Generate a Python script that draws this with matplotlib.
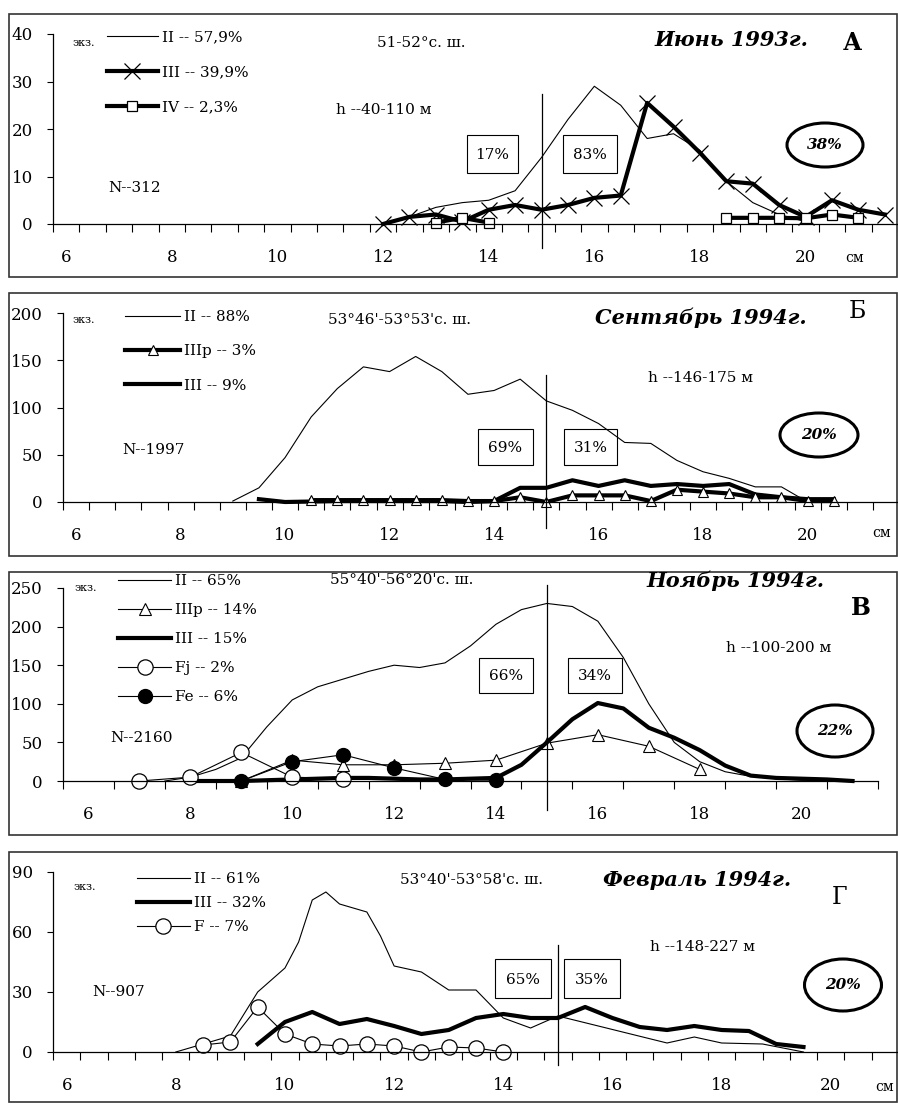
"""Length frequency by maturity stage, four surveys (panels А, Б, В, Г)."""

import matplotlib

matplotlib.use("Agg")

import matplotlib.pyplot as plt
import numpy as np
from matplotlib.patches import Ellipse, Rectangle

plt.rcParams["font.family"] = ["DejaVu Serif", "DejaVu Sans"]

W, H = 898, 1104
X_LABELS = [6, 8, 10, 12, 14, 16, 18, 20]
DIVIDE_AT = 15

# ---- panel А: June 1993 ----
A_II_X = [12, 12.5, 13, 13.5, 14, 14.5, 15, 15.5, 16, 16.5, 17, 17.5, 18, 18.5, 19, 19.5, 20]
A_II_Y = [0, 1.5, 3.5, 4.5, 5, 7, 14, 22, 29, 25, 18, 19, 15.5, 9, 4.5, 2, 0.5]
A_III_X = [12, 12.5, 13, 13.5, 14, 14.5, 15, 15.5, 16, 16.5, 17, 17.5, 18, 18.5, 19, 19.5,
           20, 20.5, 21, 21.5]
A_III_Y = [0, 1.5, 2, 0.5, 3, 4, 3, 4, 5.5, 6, 25.5, 20.5, 15, 9, 8.5, 4, 1.5, 5, 3, 2]
A_IV_X = [13, 13.5, 14, 14.5, 18.5, 19, 19.5, 20, 20.5, 21]
A_IV_Y = [0.3, 1.3, 0.3, np.nan, 1.3, 1.3, 1.3, 1.2, 2, 1.3]

# ---- panel Б: September 1994 ----
B_II_X = [9, 9.5, 10, 10.5, 11, 11.5, 12, 12.5, 13, 13.5, 14, 14.5, 15, 15.5, 16, 16.5, 17,
          17.5, 18, 18.5, 19, 19.5, 20]
B_II_Y = [1, 15, 47, 90, 120, 143, 138, 154, 138, 114, 118, 130, 107, 97, 83, 63, 62, 44, 32,
          25, 16, 16, 0]
B_IIIP_X = [10.5, 11, 11.5, 12, 12.5, 13, 13.5, 14, 14.5, 15, 15.5, 16, 16.5, 17, 17.5, 18,
            18.5, 19, 19.5, 20, 20.5]
B_IIIP_Y = [2, 2, 2, 2, 2, 2, 1, 1, 5, 0, 7, 7, 7, 1, 13, 11, 9, 5, 5, 1, 1]
B_III_X = [9.5, 10, 10.5, 11, 11.5, 12, 12.5, 13, 13.5, 14, 14.5, 15, 15.5, 16, 16.5, 17,
           17.5, 18, 18.5, 19, 19.5, 20, 20.5]
B_III_Y = [3, 0, 0.5, 1, 1, 1, 1, 1, 0, 1, 15, 15, 23, 17, 23, 17, 19, 17, 19, 8, 5, 3, 3]

# ---- panel В: November 1994 ----
V_II_X = [7.5, 8, 8.5, 9, 9.5, 10, 10.5, 11, 11.5, 12, 12.5, 13, 13.5, 14, 14.5, 15, 15.5,
          16, 16.5, 17, 17.5, 18, 18.5, 19, 19.5, 20, 20.5, 21]
V_II_Y = [0, 5, 15, 30, 70, 105, 122, 132, 142, 150, 147, 153, 175, 203, 222, 230, 226, 207,
          160, 100, 50, 25, 12, 6, 3, 1, 1, 0]
V_IIIP_X = [9, 10, 11, 12, 13, 14, 15, 16, 17, 18]
V_IIIP_Y = [0, 27, 21, 21, 23, 27, 49, 60, 45, 15]
V_III_X = [8, 8.5, 9, 9.5, 10, 10.5, 11, 11.5, 12, 12.5, 13, 13.5, 14, 14.5, 15, 15.5, 16,
           16.5, 17, 17.5, 18, 18.5, 19, 19.5, 20, 20.5, 21]
V_III_Y = [0, 0, 0, 1, 2, 3, 4, 4, 3, 2, 2, 3, 4, 21, 50, 80, 101, 94, 69, 56, 40, 20, 7, 4,
           3, 2, 0]
V_FJ_X = [7, 8, 9, 10, 11]
V_FJ_Y = [0, 5, 37, 5, 3]
V_FE_X = [9, 10, 11, 12, 13, 14]
V_FE_Y = [0, 25, 34, 17, 2, 1]

# ---- panel Г: February 1994 ----
G_II_X = [8, 8.5, 9, 9.5, 10, 10.25, 10.5, 10.75, 11, 11.5, 11.75, 12, 12.5, 13, 13.5, 14,
          14.5, 15, 17, 17.5, 18, 18.75, 19.5]
G_II_Y = [0, 4, 8, 30, 42, 55, 76, 80, 74, 70, 58, 43, 40, 31, 31, 17, 12, 18, 4.5, 7.5, 4.5,
          4, 0]
G_III_X = [9.5, 10, 10.5, 11, 11.5, 12, 12.5, 13, 13.5, 14, 14.5, 15, 15.5, 16, 16.5, 17,
           17.5, 18, 18.5, 19, 19.5]
G_III_Y = [4, 15, 20, 14, 16.5, 13, 9, 11, 17, 19, 17, 17, 22.5, 17, 12.5, 11, 13, 11, 10.5,
           4, 2.5]
G_F_X = [8.5, 9, 9.5, 10, 10.5, 11, 11.5, 12, 12.5, 13, 13.5, 14]
G_F_Y = [3.5, 5, 22.5, 9, 4, 3, 4, 3, 0, 2.5, 2, 0]

THIN = dict(color="black", lw=0.8, clip_on=False)
THICK = dict(color="black", lw=3.0, clip_on=False, solid_joinstyle="round")


def make_axes(fig, left, right, top, bottom, xlim, yticks, minor):
    ax = fig.add_axes([left / W, 1 - bottom / H, (right - left) / W, (bottom - top) / H])
    ax.set_facecolor("none")
    ax.set_xlim(*xlim)
    ax.set_ylim(yticks[0], yticks[-1])
    ax.set_yticks(yticks)
    ax.set_xticks(X_LABELS)
    ax.set_xticks(minor, minor=True)
    for side in ("top", "right"):
        ax.spines[side].set_visible(False)
    for side in ("left", "bottom"):
        ax.spines[side].set_linewidth(0.9)
    ax.tick_params(axis="x", which="major", length=0, pad=18, labelsize=12)
    ax.tick_params(axis="x", which="minor", length=5.5, width=0.8, direction="out")
    ax.tick_params(axis="y", length=4.5, width=0.8, pad=10, labelsize=12)
    return ax


def legend(ax, handles, labels, left, top, spacing, hlen):
    ax.legend(handles, labels, loc="upper left", bbox_to_anchor=(left / W, 1 - top / H),
              bbox_transform=ax.figure.transFigure, frameon=False, fontsize=11,
              borderpad=0, borderaxespad=0, handlelength=hlen, handletextpad=0.25,
              labelspacing=spacing)


def box(ov, x0, y0, x1, y1, label):
    ov.add_patch(Rectangle((x0, y0), x1 - x0, y1 - y0, fill=False, lw=0.8, ec="black"))
    ov.text((x0 + x1) / 2, (y0 + y1) / 2 + 1, label, ha="center", va="center", fontsize=11)


def oval(ov, cx, cy, w, h, label):
    ov.add_patch(Ellipse((cx, cy), w, h, fill=False, lw=2.2, ec="black"))
    ov.text(cx, cy, label, ha="center", va="center", fontsize=11,
            fontweight="bold", fontstyle="italic")


def header(ov, texts):
    (ex, ey), lat, hdep, n, title, letter = texts
    ov.text(ex, ey, "экз.", ha="center", va="center", fontsize=8)
    ov.text(lat[0], lat[1], lat[2], ha="center", va="center", fontsize=11)
    ov.text(hdep[0], hdep[1], hdep[2], ha="center", va="center", fontsize=11)
    ov.text(n[0], n[1], n[2], ha="left", va="center", fontsize=11)
    ov.text(title[0], title[1], title[2], ha="center", va="center", fontsize=15,
            fontweight="bold", fontstyle="italic")
    ov.text(letter[0], letter[1], letter[2], ha="center", va="center", fontsize=17,
            fontweight=letter[3])


def main() -> None:
    fig = plt.figure(figsize=(W / 100, H / 100), dpi=100)
    ov = fig.add_axes([0, 0, 1, 1])
    ov.set_xlim(0, W)
    ov.set_ylim(H, 0)
    ov.axis("off")

    for top, bottom in [(14, 277), (293, 556), (572, 835), (852, 1102)]:
        ov.add_patch(Rectangle((9, top), 888, bottom - top, fill=False, lw=1.2, ec="#333333"))

    # ---- А ----
    ax = make_axes(fig, 53, 898, 34, 224, (5.75, 21.75), [0, 10, 20, 30, 40],
                   np.arange(5.75, 21.8, 0.5))
    l1, = ax.plot(A_II_X, A_II_Y, **THIN)
    l2, = ax.plot(A_III_X, A_III_Y, marker="x", ms=11, mew=0.9, **THICK)
    l3, = ax.plot(A_IV_X, A_IV_Y, marker="s", ms=7.5, mfc="white", mec="black", mew=0.9, **THICK)
    ax.axvline(DIVIDE_AT, ymin=-0.126, ymax=0.684, color="black", lw=0.9, clip_on=False)
    legend(ax, [l1, l2, l3], ["II -- 57,9%", "III -- 39,9%", "IV -- 2,3%"], 107, 30, 1.38, 3.33)
    header(ov, [(84, 43), (421, 43, "51-52°с. ш."), (384, 110, "h --40-110 м"),
                (108, 188, "N--312"), (731, 40, "Июнь 1993г."), (852, 43, "А", "bold")])
    box(ov, 467, 135, 518, 173, "17%")
    box(ov, 563, 135, 617, 173, "83%")
    oval(ov, 825, 145, 76, 44, "38%")
    ov.text(855, 258, "см", ha="center", va="center", fontsize=10)

    # ---- Б ----
    ax = make_axes(fig, 63, 899, 313, 502, (5.75, 21.75), [0, 50, 100, 150, 200],
                   np.arange(5.75, 21.8, 0.5))
    l1, = ax.plot(B_II_X, B_II_Y, **THIN)
    l3, = ax.plot(B_III_X, B_III_Y, **THICK)
    l2, = ax.plot(B_IIIP_X, B_IIIP_Y, marker="^", ms=6.5, mfc="white", mec="black", mew=0.8,
                  **THICK)
    ax.axvline(DIVIDE_AT, ymin=-0.138, ymax=0.672, color="black", lw=0.9, clip_on=False)
    legend(ax, [l1, l2, l3], ["II -- 88%", "IIIp -- 3%", "III -- 9%"], 125, 310, 1.33, 3.6)
    header(ov, [(84, 320), (399, 320, "53°46'-53°53'с. ш."), (700, 378, "h --146-175 м"),
                (122, 450, "N--1997"), (701, 318, "Сентябрь 1994г."), (857, 312, "Б", "normal")])
    box(ov, 478, 429, 533, 465, "69%")
    box(ov, 564, 429, 617, 465, "31%")
    oval(ov, 819, 435, 78, 44, "20%")
    ov.text(882, 533, "см", ha="center", va="center", fontsize=10)

    # ---- В ----
    ax = make_axes(fig, 63, 878, 588, 781, (5.5, 21.5), [0, 50, 100, 150, 200, 250],
                   np.arange(5.5, 21.6, 1.0))
    l1, = ax.plot(V_II_X, V_II_Y, **THIN)
    l2, = ax.plot(V_IIIP_X, V_IIIP_Y, marker="^", ms=8, mfc="white", mec="black", mew=0.8,
                  **THIN)
    l3, = ax.plot(V_III_X, V_III_Y, **THICK)
    l4, = ax.plot(V_FJ_X, V_FJ_Y, marker="o", ms=11, mfc="white", mec="black", mew=0.9, **THIN)
    l5, = ax.plot(V_FE_X, V_FE_Y, marker="o", ms=10, mfc="black", mec="black", **THIN)
    ax.axvline(DIVIDE_AT, ymin=-0.150, ymax=1.016, color="black", lw=0.9, clip_on=False)
    legend(ax, [l1, l2, l3, l4, l5],
           ["II -- 65%", "IIIp -- 14%", "III -- 15%", "Fj -- 2%", "Fe -- 6%"],
           118, 574, 0.98, 3.5)
    header(ov, [(86, 588), (402, 580, "55°40'-56°20'с. ш."), (779, 648, "h --100-200 м"),
                (110, 738, "N--2160"), (735, 581, "Ноябрь 1994г."), (861, 608, "В", "bold")])
    box(ov, 479, 658, 533, 693, "66%")
    box(ov, 568, 658, 622, 693, "34%")
    oval(ov, 835, 731, 76, 52, "22%")

    # ---- Г ----
    ax = make_axes(fig, 53, 899, 872, 1052, (5.75, 21.25), [0, 30, 60, 90],
                   np.arange(5.75, 21.3, 0.5))
    l1, = ax.plot(G_II_X, G_II_Y, **THIN)
    l2, = ax.plot(G_III_X, G_III_Y, **THICK)
    l3, = ax.plot(G_F_X, G_F_Y, marker="o", ms=11, mfc="white", mec="black", mew=0.9, **THIN)
    ax.axvline(DIVIDE_AT, ymin=-0.072, ymax=0.594, color="black", lw=0.9, clip_on=False)
    legend(ax, [l1, l2, l3], ["II -- 61%", "III -- 32%", "F -- 7%"], 137, 872, 0.66, 3.46)
    header(ov, [(85, 887), (471, 880, "53°40'-53°58'с. ш."), (703, 947, "h --148-227 м"),
                (92, 992, "N--907"), (697, 880, "Февраль 1994г."), (840, 897, "Г", "normal")])
    box(ov, 495, 959, 551, 998, "65%")
    box(ov, 564, 959, 620, 998, "35%")
    oval(ov, 843, 985, 77, 52, "20%")
    ov.text(885, 1087, "см", ha="center", va="center", fontsize=10)

    fig.savefig("out.png", dpi=100)
    plt.close(fig)


if __name__ == "__main__":
    main()
